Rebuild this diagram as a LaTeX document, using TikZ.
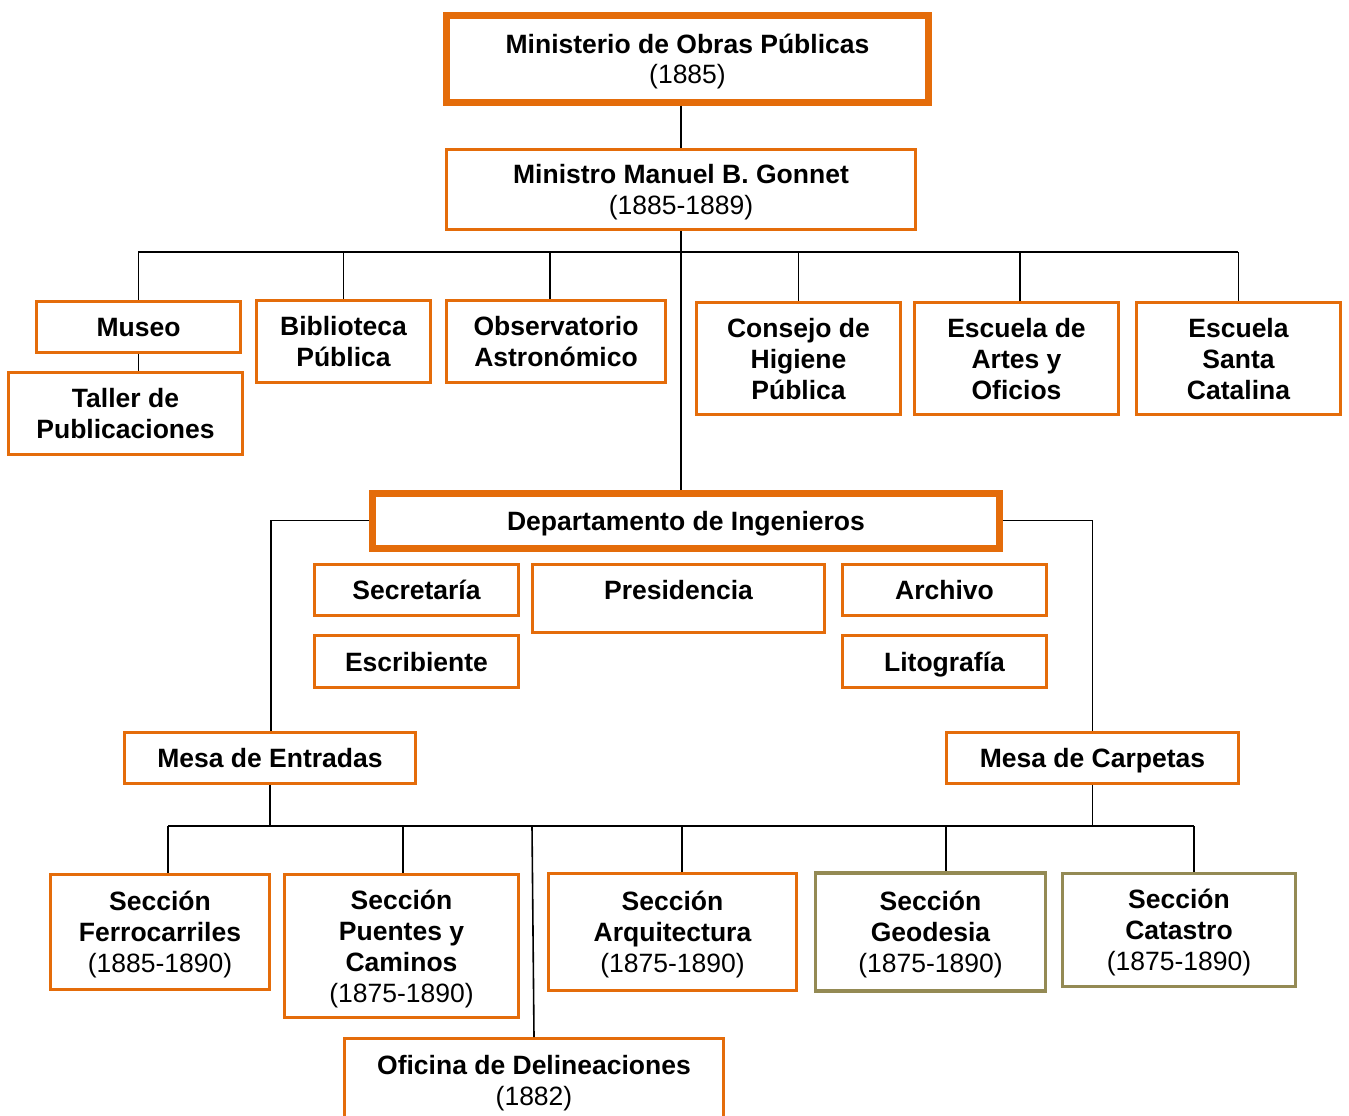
\documentclass[tikz,border=0pt]{standalone}
\usepackage{fontspec}
\setmainfont{Liberation Sans}
\definecolor{orng}{RGB}{228,108,10}
\definecolor{olivetan}{RGB}{148,138,84}
\begin{document}
\begin{tikzpicture}[x=1pt,y=-1pt,
  box/.style={draw=orng, line width=3pt, inner sep=0pt, align=center,
    font=\fontsize{26.5}{31}\selectfont\bfseries, fill=white,
    text height=19pt, text depth=0pt},
  thickbox/.style={box, line width=7pt},
  olivebox/.style={box, draw=olivetan, line width=3.5pt},
  conn/.style={draw=black, line width=1.6pt},
  twolines/.style={text height=50pt},
  threelines/.style={text height=81pt},
  fourlines/.style={text height=112pt},
  dims/.style n args={2}{minimum width=#1pt, minimum height=#2pt}]
\path[use as bounding box, clip] (0,0) rectangle (1349,1116);
\fill[white] (0,0) rectangle (1349,1116);

% top of the hierarchy
\node[thickbox, twolines, dims={482}{86}] (min) at (687.5,59) {Ministerio de Obras Públicas\\ \mdseries (1885)};
\node[box, twolines, dims={469}{80}] (gon) at (681,189.5) {Ministro Manuel B. Gonnet\\ \mdseries (1885-1889)};

% dependencies of the minister
\node[box, dims={204}{51}] (museo) at (138.5,326.5) {Museo};
\node[box, twolines, dims={234}{82}] (taller) at (125.5,413.5) {Taller de\\Publicaciones};
\node[box, twolines, dims={174}{82}] (bib) at (343.5,341.5) {Biblioteca\\Pública};
\node[box, twolines, dims={219}{82}] (obs) at (556,341.5) {Observatorio\\Astronómico};
\node[box, threelines, dims={204}{112}] (cons) at (798.5,358.5) {Consejo de\\Higiene\\Pública};
\node[box, threelines, dims={204}{112}] (artes) at (1016.5,358.5) {Escuela de\\Artes y\\Oficios};
\node[box, threelines, dims={204}{112}] (santa) at (1238.5,358.5) {Escuela\\Santa\\Catalina};

% engineering department
\node[thickbox, dims={627}{55}] (dep) at (686,520.5) {Departamento de Ingenieros};
\node[box, dims={204}{51}] (sec) at (416.5,590) {Secretaría};
\node[box, minimum width=292pt, text height=35pt, text depth=33pt] (pres) at (678.5,598.5) {Presidencia};
\node[box, dims={204}{51}] (arch) at (944.5,590) {Archivo};
\node[box, dims={204}{52}] (escr) at (416.5,661.5) {Escribiente};
\node[box, dims={204}{52}] (lit) at (944.5,661.5) {Litografía};
\node[box, dims={291}{51}] (ment) at (270,757.5) {Mesa de Entradas};
\node[box, dims={292}{51}] (mcarp) at (1092.5,757.5) {Mesa de Carpetas};

% sections
\node[box, threelines, dims={219}{115}] (ferro) at (160,931.5) {Sección\\Ferrocarriles\\ \mdseries (1885-1890)};
\node[box, fourlines, dims={234}{143}] (puentes) at (401.5,946) {Sección\\Puentes y\\Caminos\\ \mdseries (1875-1890)};
\node[box, threelines, dims={248}{117}] (arq) at (672.5,931.5) {Sección\\Arquitectura\\ \mdseries (1875-1890)};
\node[olivebox, threelines, dims={230}{118}] (geo) at (930.5,932) {Sección\\Geodesia\\ \mdseries (1875-1890)};
\node[olivebox, threelines, dims={233}{113}] (cat) at (1179,930) {Sección\\Catastro\\ \mdseries (1875-1890)};
\node[box, twolines, dims={379}{84}] (ofi) at (534,1080.5) {Oficina de Delineaciones\\ \mdseries (1882)};

% connectors: minister level
\coordinate (busL) at (138,252);
\coordinate (busR) at (1238,252);
\coordinate (obsDrop) at (550,252);
\coordinate (artDrop) at (1020,252);
\draw[conn] (gon.north |- min.south) -- (gon.north);
\draw[conn] (busL) -- (busR);
\draw[conn] (gon.south) -- (gon.south |- dep.north);
\draw[conn] (museo.north |- busL) -- (museo.north);
\draw[conn] (museo.south) -- (museo.south |- taller.north);
\draw[conn] (bib.north |- busL) -- (bib.north);
\draw[conn] (obsDrop) -- (obsDrop |- obs.north);
\draw[conn] (cons.north |- busL) -- (cons.north);
\draw[conn] (artDrop) -- (artDrop |- artes.north);
\draw[conn] (santa.north |- busL) -- (santa.north);

% connectors: department to the two desks
\draw[conn] (dep.west) -- ([xshift=1pt]ment.north |- dep.west) -- ([xshift=1pt]ment.north);
\draw[conn] (dep.east) -- (mcarp.north |- dep.east) -- (mcarp.north);

% connectors: desks to sections
\coordinate (lbL) at (168,826);
\coordinate (lbR) at (1194,826);
\coordinate (dArq) at (682,826);
\coordinate (dGeo) at (946,826);
\coordinate (dOfi) at (532,826);
\draw[conn] (lbL) -- (lbR);
\draw[conn] (ment.south) -- (ment.south |- lbL);
\draw[conn] (mcarp.south) -- (mcarp.south |- lbL);
\draw[conn] (lbL) -- (lbL |- ferro.north);
\draw[conn] ([xshift=1.5pt]puentes.north |- lbL) -- ([xshift=1.5pt]puentes.north);
\draw[conn] (dOfi) -- (ofi.north);
\draw[conn] (dArq) -- (dArq |- arq.north);
\draw[conn] (dGeo) -- (dGeo |- geo.north);
\draw[conn] (lbR) -- (lbR |- cat.north);
\end{tikzpicture}
\end{document}
